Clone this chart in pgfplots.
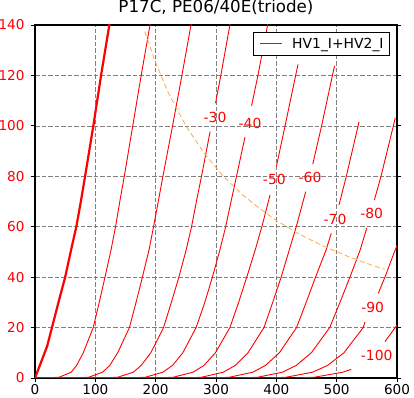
\documentclass[border=0pt]{standalone}
\usepackage{fontspec}
\setmainfont{DejaVu Sans}
\usepackage{pgfplots}
\pgfplotsset{compat=1.18}
\definecolor{pdiss}{RGB}{245,172,75}
\begin{document}
\begin{tikzpicture}
\begin{axis}[
  name=ax, at={(0,0)}, anchor=south west,
  width=362bp, height=353bp, scale only axis,
  xmin=0, xmax=600, ymin=0, ymax=140,
  xtick={0,100,...,600}, ytick={0,20,...,140},
  /pgf/number format/assume math mode=true,
  tick label style={font=\fontsize{13.6bp}{15bp}\selectfont},
  xticklabel style={inner sep=1bp, yshift=-1.4bp},
  yticklabel style={text=red, xshift=-3.5bp},
  tick align=outside, major tick length=3.5bp,
  tick style={black, line width=0.8bp},
  xtick pos=left, ytick pos=both, yticklabel pos=left,
  axis line style={line width=1.2bp},
  grid=major,
  major grid style={gray, line width=0.6bp, dash pattern=on 4.5bp off 2bp},
  title={P17C, PE06/40E(triode)},
  title style={font=\fontsize{16.7bp}{19bp}\selectfont, inner sep=1bp, anchor=base, at={(0.5,1)}, yshift=6.5bp},
  unbounded coords=jump,
  legend style={at={(1,1)}, anchor=north east, xshift=-7bp, yshift=-7bp,
    draw=black, line width=0.8bp, fill=white,
    font=\fontsize{13.9bp}{16bp}\selectfont,
    inner xsep=3bp, inner ysep=2.5bp, column sep=7bp,
    nodes={inner xsep=3bp, inner ysep=3bp}},
  legend image code/.code={\draw[#1] (3bp,0bp) -- (25bp,0bp); \path (0bp,0bp);},
]
% 0 V (thick)
\addplot[red, line width=2.2bp, forget plot] coordinates {
(0,0) (20,12.5) (40,31) (50,40) (60,51) (68.5,60) (76,70) (83,80) (96.7,100) (109.5,120) (123.2,140) (126,144)};
% -10 V
\addplot[red, line width=0.9bp] coordinates {
(0,0) (15,0) (40,0.3) (60,2.3) (69,5) (80,10) (96.5,20) (106.5,30) (116,40) (126,50.8) (133.5,60) (141,70.6) (148,80) (162,100) (176,120) (190.6,140) (195,146)};
\addlegendentry{HV1\_I+HV2\_I}
% -20 V
\addplot[red, line width=0.9bp, forget plot] coordinates {
(0,0) (60,0) (89,0.3) (112,2.3) (124,5) (137,10) (156.5,20) (167.5,30) (178,40) (189,50.8) (196.5,60) (204.8,70.6) (212,80) (228,100) (243.5,120) (258.5,140) (263,146)};
% -30 V
\addplot[red, line width=0.9bp, forget plot] coordinates {
(0,0) (110,0) (137,0.3) (163,2.3) (176,5) (192,10) (213,20) (226,30) (238.5,40) (250.5,50.8) (259.5,60) (268,70.6) (276,80) (290.2,97.7) (295,nan) (299.2,109) (308,120) (323,140) (327,146)};
% -40 V
\addplot[red, line width=0.9bp, forget plot] coordinates {
(0,0) (155,0) (183,0.3) (212,2.3) (228,5) (245,10) (267,20) (281.5,30) (294,40) (306.5,50.8) (316,60) (325.5,70.6) (334,80) (348,95.5) (353,nan) (359,108) (369.5,120) (385.5,140) (390,146)};
% -50 V
\addplot[red, line width=0.9bp, forget plot] coordinates {
(0,0) (200,0) (229,0.3) (262,2.3) (280,5) (299,10) (323,20) (337.5,30) (351,40) (365,50.8) (376,60) (387.5,70.6) (389.5,72.6) (395,nan) (400,83.8) (414.5,100) (432,120) (436,124.4)};
% -60 V
\addplot[red, line width=0.9bp, forget plot] coordinates {
(0,0) (250,0) (276,0.3) (312,2.3) (332,5) (353,10) (379.5,20) (394,30) (408,40) (421.5,50.8) (433,60) (445,70.6) (448.7,73.9) (455,nan) (460.4,84.8) (475,100) (493,120) (496.5,123.8)};
% -70 V
\addplot[red, line width=0.9bp, forget plot] coordinates {
(0,0) (295,0) (322,0.3) (361,2.3) (382,5) (405,10) (433.5,20) (449.5,30) (465,40) (482.5,50.8) (491.1,57.4) (497,nan) (503.8,68.6) (506,70.6) (516,80) (535.5,100) (537,101.5)};
% -80 V
\addplot[red, line width=0.9bp, forget plot] coordinates {
(0,0) (340,0) (369,0.3) (410,2.3) (433,5) (458,10) (488.5,20) (505.5,30) (522,40) (539,50.8) (549.8,59.4) (556,nan) (562.5,70.6) (573.5,80) (594,100) (597,103)};
% -90 V
\addplot[red, line width=0.9bp, forget plot] coordinates {
(0,0) (385,0) (416,0.3) (460,2.3) (485,5) (512,10) (544,20) (547,22.3) (558,nan) (569,33.6) (580,40) (597,50.8) (601,53)};
% -100 V
\addplot[red, line width=0.9bp, forget plot] coordinates {
(0,0) (430,0) (463,0.3) (510,2.3) (524,3.4) (550,nan) (580,14.4) (597,20) (601,21.3)};
% plate dissipation 25 W
\addplot[pdiss, line width=0.8bp, dash pattern=on 5bp off 3bp, forget plot] coordinates {
(182,137.4) (200,125) (220,113.6) (250,100) (280,89.3) (310,80.6) (340,73.5) (370,67.6) (400,62.5) (440,56.8) (480,52.1) (520,48.1) (560,44.6) (580,43.1)};
% curve labels
\begin{scope}[every node/.style={text=red, font=\fontsize{13.9bp}{16bp}\selectfont, inner sep=0pt, anchor=center}]
\node at (axis cs:298.4,103.4) {-30};
\node at (axis cs:356.4,101) {-40};
\node at (axis cs:396.7,78.8) {-50};
\node at (axis cs:455.8,79.6) {-60};
\node at (axis cs:497.3,62.9) {-70};
\node at (axis cs:558,65.3) {-80};
\node at (axis cs:559.7,28) {-90};
\node at (axis cs:566.3,9.1) {-100};
\end{scope}
\end{axis}
\pgfresetboundingbox
\path[use as bounding box] (-35bp,-20bp) rectangle (379bp,378bp);
\end{tikzpicture}
\end{document}
